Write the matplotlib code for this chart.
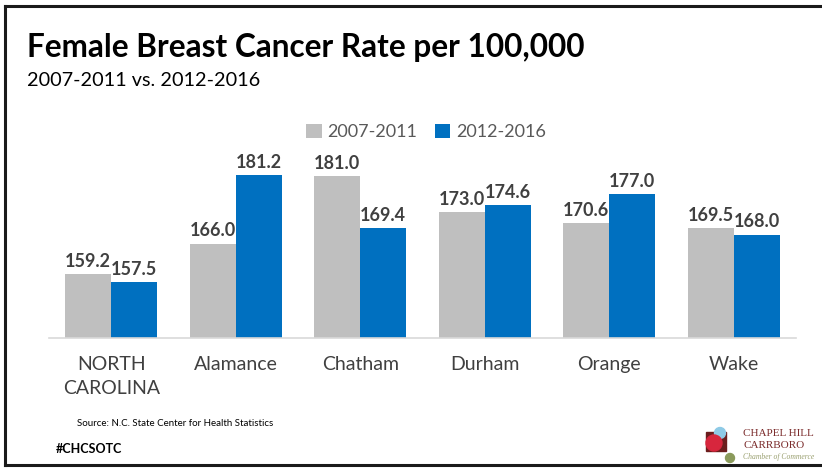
import matplotlib
matplotlib.use("Agg")
import matplotlib.pyplot as plt
import numpy as np
from matplotlib.patches import Rectangle, Circle

# Data
counties = ["NORTH\nCAROLINA", "Alamance", "Chatham", "Durham", "Orange", "Wake"]
rate_2007_2011 = [159.2, 166.0, 181.0, 173.0, 170.6, 169.5]
rate_2012_2016 = [157.5, 181.2, 169.4, 174.6, 177.0, 168.0]
series_labels = ["2007-2011", "2012-2016"]

grey = "#bfbfbf"
blue = "#0070c0"
text_dark = "#404040"

W, H = 822, 468
fig = plt.figure(figsize=(W / 100, H / 100), dpi=100)

# background layer in pixel coordinates (frame, titles, logo)
bg = fig.add_axes([0, 0, 1, 1])
bg.set_xlim(0, W)
bg.set_ylim(H, 0)
bg.axis("off")

bg.plot([5, 5], [6, 465], color="#1a1a1a", lw=2.2)
bg.plot([5, W], [6, 6], color="#1a1a1a", lw=2.2)
bg.plot([5, W], [465, 465], color="#1a1a1a", lw=2.2)

bg.text(27, 47, "Female Breast Cancer Rate per 100,000", fontsize=22.7,
        fontweight="bold", family="Lato", va="center", ha="left", color="black")
bg.text(27, 81, "2007-2011 vs. 2012-2016", fontsize=14.3, family="Lato",
        va="center", ha="left", color="black")
bg.text(77, 423, "Source: N.C. State Center for Health Statistics", fontsize=7,
        family="Lato", va="center", ha="left", color="black")
bg.text(56, 449, "#CHCSOTC", fontsize=9, fontweight="bold", family="Lato",
        va="center", ha="left", color="black")

# logo
bg.add_patch(Rectangle((706, 432), 20, 19, color="#6b1d1d", zorder=2))
bg.add_patch(Circle((720, 433), 5.5, color="#8ecae6", zorder=3))
bg.add_patch(Circle((714, 443), 8, color="#d7263d", zorder=3))
bg.add_patch(Circle((730, 458), 4.5, color="#8a9a5b", zorder=3))
bg.text(743, 433, "CHAPEL HILL", fontsize=8, family="Liberation Serif",
        color="#7a2a2a", va="center", ha="left")
bg.text(743, 445, "CARRBORO", fontsize=8, family="Liberation Serif",
        color="#7a2a2a", va="center", ha="left")
bg.text(743, 457, "Chamber of Commerce", fontsize=5.5, family="Liberation Serif",
        style="italic", color="#9aa070", va="center", ha="left")

# chart
ax = fig.add_axes([49 / W, 1 - 338 / H, 747 / W, 188 / H])
x = np.arange(len(counties))
bw = 0.37
b1 = ax.bar(x - bw / 2, rate_2007_2011, bw, color=grey, label=series_labels[0])
b2 = ax.bar(x + bw / 2, rate_2012_2016, bw, color=blue, label=series_labels[1])
ax.set_xlim(-0.5, len(counties) - 0.5)
ax.set_ylim(145, 145 + 188 / 4.5)

for bars in (b1, b2):
    for rect in bars:
        v = rect.get_height()
        ax.annotate(f"{v:.1f}", (rect.get_x() + rect.get_width() / 2, v),
                    xytext=(0, 3), textcoords="offset points", ha="center",
                    va="bottom", fontsize=13, fontweight="bold", family="Lato",
                    color=text_dark)

for s in ["top", "right", "left"]:
    ax.spines[s].set_visible(False)
ax.spines["bottom"].set_color("#d9d9d9")
ax.spines["bottom"].set_linewidth(1.2)
ax.set_yticks([])
ax.set_xticks(x)
ax.set_xticklabels(counties, fontsize=14, family="Lato", color=text_dark,
                   linespacing=1.5)
ax.tick_params(axis="x", length=0, pad=13)
ax.patch.set_alpha(0)

leg = fig.legend(handles=[b1, b2], loc="center", bbox_to_anchor=(426 / W, 1 - 132 / H),
                 ncol=2, frameon=False, handlelength=0.85, handleheight=0.85,
                 handletextpad=0.3, columnspacing=1.0,
                 prop={"family": "Lato", "size": 13})
for t in leg.get_texts():
    t.set_color("#595959")

fig.savefig("out.png", dpi=100)
